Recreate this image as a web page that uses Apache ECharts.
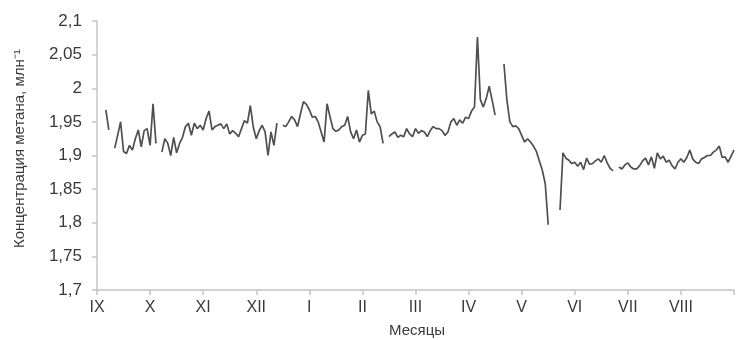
<!DOCTYPE html>
<html>
<head>
<meta charset="utf-8">
<script src="https://cdn.jsdelivr.net/npm/echarts@6/dist/echarts.min.js"></script>
<style>
html,body{margin:0;padding:0;background:#fff;}
#chart{width:737px;height:340px;}
</style>
</head>
<body>
<div id="chart"></div>
<script>
// Month tick labels (September .. August), 18 samples per month
const monthLabels = ['IX','X','XI','XII','I','II','III','IV','V','VI','VII','VIII'];
const samplesPerMonth = 18;

// Methane concentration, ppm (null = no data)
const methane = [
  null,null,null,1.968,1.938,null,1.911,1.930,1.950,1.906,
  1.903,1.915,1.908,1.925,1.938,1.913,1.937,1.940,1.915,1.977,
  1.918,null,1.905,1.925,1.918,1.900,1.927,1.904,1.918,1.927,
  1.943,1.948,1.930,1.948,1.940,1.945,1.938,1.955,1.966,1.938,
  1.943,1.945,1.947,1.940,1.947,1.932,1.937,1.933,1.928,1.940,
  1.952,1.948,1.974,1.942,1.925,1.937,1.945,1.935,1.900,1.935,
  1.915,1.948,null,1.945,1.943,1.950,1.958,1.953,1.943,1.962,
  1.980,1.976,1.968,1.957,1.958,1.950,1.935,1.920,1.977,1.958,
  1.940,1.936,1.938,1.943,1.945,1.958,1.935,1.925,1.938,1.920,
  1.930,1.932,1.997,1.962,1.966,1.950,1.943,1.918,null,1.928,
  1.932,1.935,1.927,1.930,1.928,1.940,1.932,1.928,1.940,1.933,
  1.937,1.935,1.928,1.937,1.943,1.940,1.940,1.937,1.930,1.935,
  1.950,1.955,1.945,1.953,1.948,1.957,1.955,1.966,1.972,2.076,
  1.983,1.972,1.985,2.003,1.982,1.960,null,null,2.036,1.982,
  1.950,1.943,1.944,1.940,1.930,1.920,1.925,1.920,1.914,1.906,
  1.892,1.878,1.858,1.797,null,null,null,1.819,1.904,1.896,
  1.893,1.888,1.890,1.884,1.890,1.879,1.896,1.887,1.888,1.892,
  1.895,1.890,1.900,1.889,1.881,1.877,null,1.883,1.880,1.886,
  1.889,1.883,1.880,1.880,1.885,1.892,1.896,1.886,1.898,1.881,
  1.904,1.895,1.899,1.890,1.893,1.885,1.880,1.890,1.895,1.890,
  1.897,1.908,1.895,1.890,1.888,1.895,1.897,1.900,1.900,1.905,
  1.908,1.914,1.897,1.898,1.890,1.899,1.908
];

const yMin = 1.7, yMax = 2.1, yStep = 0.05;
const yTitle = 'Концентрация метана, млн⁻¹';
const xTitle = 'Месяцы';

const categories = methane.map((_, i) => String(i));
const isTick = (i) => i % samplesPerMonth === 0;

const chart = echarts.init(document.getElementById('chart'), null, {renderer: 'canvas'});
const axisColor = '#c4c4c4';
const textColor = '#3a3a3a';
const font = 'Liberation Sans, Arial, sans-serif';

chart.setOption({
  animation: false,
  backgroundColor: '#fff',
  grid: {left: 97, right: 0, top: 21, bottom: 50, containLabel: false},
  xAxis: {
    type: 'category',
    data: categories,
    boundaryGap: false,
    axisLine: {lineStyle: {color: axisColor, width: 1.5}},
    axisTick: {show: true, interval: (i) => isTick(i), length: 5, lineStyle: {color: axisColor, width: 1.5}},
    axisLabel: {
      interval: (i) => isTick(i),
      formatter: (v, i) => monthLabels[i / samplesPerMonth] || '',
      color: textColor, fontFamily: font, fontSize: 16, margin: 10
    },
    splitLine: {show: false}
  },
  yAxis: {
    type: 'value',
    min: yMin, max: yMax, interval: yStep,
    axisLine: {show: true, lineStyle: {color: axisColor, width: 1.5}},
    axisTick: {show: true, length: 5, lineStyle: {color: axisColor, width: 1.5}},
    axisLabel: {
      formatter: (v) => String(+v.toFixed(2)).replace('.', ','),
      color: textColor, fontFamily: font, fontSize: 17, margin: 15
    },
    splitLine: {show: false}
  },
  graphic: [
    {type: 'text', x: 12, y: 248, rotation: Math.PI / 2,
     style: {text: yTitle, fill: textColor, font: '15px ' + font}},
    {type: 'text', x: 417, y: 331,
     style: {text: xTitle, fill: textColor, font: '15px ' + font, textAlign: 'center', textVerticalAlign: 'middle'}}
  ],
  series: [{
    type: 'line',
    data: methane,
    showSymbol: false,
    symbol: 'none',
    connectNulls: false,
    lineStyle: {color: '#4f4f4f', width: 1.7},
    z: 3
  }]
});
</script>
</body>
</html>
